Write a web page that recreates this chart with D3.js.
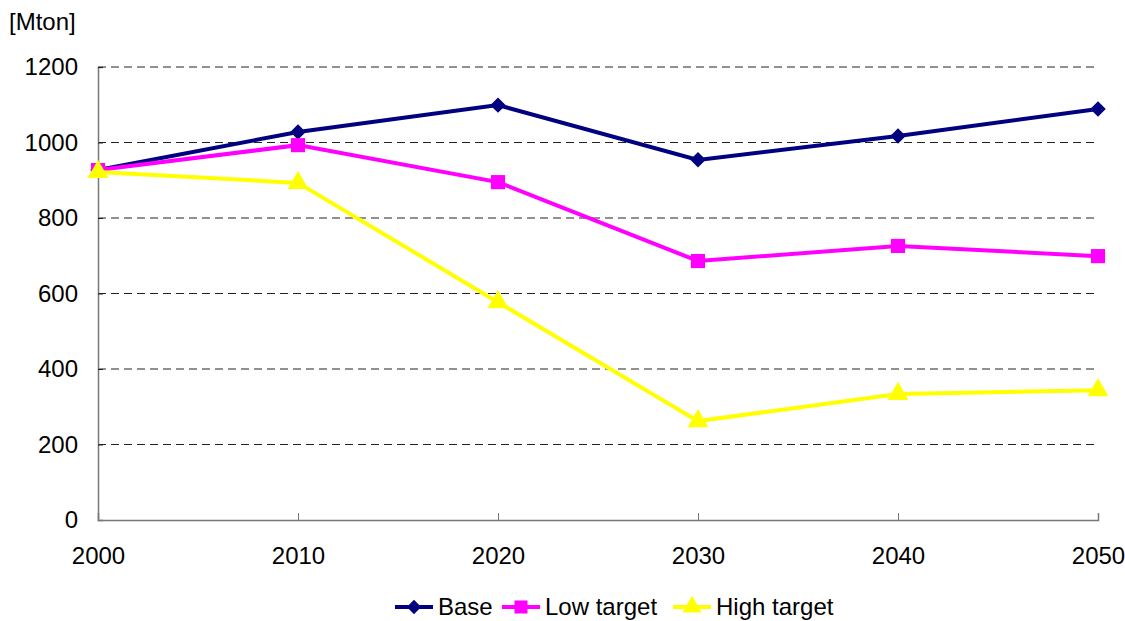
<!DOCTYPE html>
<html lang="en">
<head>
    <meta charset="UTF-8">
    <title>Mton</title>
    <script src="https://cdn.jsdelivr.net/npm/d3@7"></script>
    <style>
        body { margin: 0; background: #fff; }
        text { font-family: "Liberation Sans", Arial, sans-serif; fill: #000; }
    </style>
</head>
<body>
<script>
    // data
    let years = [2000, 2010, 2020, 2030, 2040, 2050]
    let base = [927, 1028, 1099, 954, 1017, 1089]
    let lowTarget = [927, 993, 895, 686, 726, 699]
    let highTarget = [922, 893, 577, 262, 334, 344]
    let yTicks = [0, 200, 400, 600, 800, 1000, 1200]
    let seriesNames = ['Base', 'Low target', 'High target']
    let seriesColors = ['#000080', '#ff00ff', '#ffff00']
    // diamond = square turned 45 degrees
    let seriesSymbols = [d3.symbolSquare, d3.symbolSquare, d3.symbolTriangle]
    let seriesRotate = [45, 0, 0]
    let seriesSize = [120, 200, 190]

    let W = 1125, H = 621
    let plotLeft = 98, plotRight = 1098, plotTop = 67, plotBottom = 520
    let fontSize = '24px'

    let svg = d3.select('body').append('svg')
        .attr('width', W).attr('height', H)

    let xScale = d3.scaleLinear().domain([2000, 2050]).range([plotLeft, plotRight])
    let yScale = d3.scaleLinear().domain([0, 1200]).range([plotBottom, plotTop])

    // dashed gridlines
    svg.append('g').selectAll('line').data(yTicks.filter(d => d > 0))
        .enter().append('line')
        .attr('x1', plotLeft).attr('x2', plotRight)
        .attr('y1', d => yScale(d)).attr('y2', d => yScale(d))
        .attr('stroke', '#222').attr('stroke-width', 1)
        .attr('stroke-dasharray', '8,5')

    // y axis
    let yAxis = svg.append('g')
        .attr('transform', 'translate(' + plotLeft + ',0)')
        .call(d3.axisLeft(yScale).tickValues(yTicks).tickFormat(d3.format('d')).tickSize(-5).tickPadding(20))
    yAxis.selectAll('text').style('font-size', fontSize)
    yAxis.select('.domain').attr('stroke', '#777').attr('stroke-width', 1.5)
    yAxis.selectAll('.tick line').attr('stroke', '#222')

    // x axis
    let xAxis = svg.append('g')
        .attr('transform', 'translate(0,' + plotBottom + ')')
        .call(d3.axisBottom(xScale).tickValues(years).tickFormat(d3.format('d')).tickSize(-7).tickPadding(27))
    xAxis.selectAll('text').style('font-size', fontSize)
    xAxis.select('.domain').attr('stroke', '#777').attr('stroke-width', 1.5)
    xAxis.selectAll('.tick line').attr('stroke', '#777')

    svg.append('text').attr('x', 9).attr('y', 30)
        .style('font-size', fontSize).text('[Mton]')

    let allSeries = [base, lowTarget, highTarget]
    let line = d3.line().x((d, i) => xScale(years[i])).y(d => yScale(d))

    // series drawn in order, later ones on top
    allSeries.forEach(function (values, s) {
        let g = svg.append('g')
        g.append('path').datum(values)
            .attr('d', line)
            .attr('fill', 'none')
            .attr('stroke', seriesColors[s])
            .attr('stroke-width', 4)
        g.selectAll('path.mark').data(values).enter()
            .append('path').attr('class', 'mark')
            .attr('transform', (d, i) => 'translate(' + xScale(years[i]) + ',' + yScale(d) + ') rotate(' + seriesRotate[s] + ')')
            .attr('d', d3.symbol().type(seriesSymbols[s]).size(seriesSize[s]))
            .attr('fill', seriesColors[s])
    })

    // legend
    let legendX = [395, 502, 673]
    let legend = svg.append('g')
    seriesNames.forEach(function (name, i) {
        let lg = legend.append('g').attr('transform', 'translate(' + legendX[i] + ',607)')
        lg.append('line').attr('x1', 0).attr('x2', 38)
            .attr('stroke', seriesColors[i]).attr('stroke-width', 4)
        lg.append('path').attr('transform', 'translate(19,0) rotate(' + seriesRotate[i] + ')')
            .attr('d', d3.symbol().type(seriesSymbols[i]).size(seriesSize[i] * 0.85))
            .attr('fill', seriesColors[i])
        lg.append('text').attr('x', 43).attr('y', 8)
            .style('font-size', fontSize).text(name)
    })
</script>
</body>
</html>
